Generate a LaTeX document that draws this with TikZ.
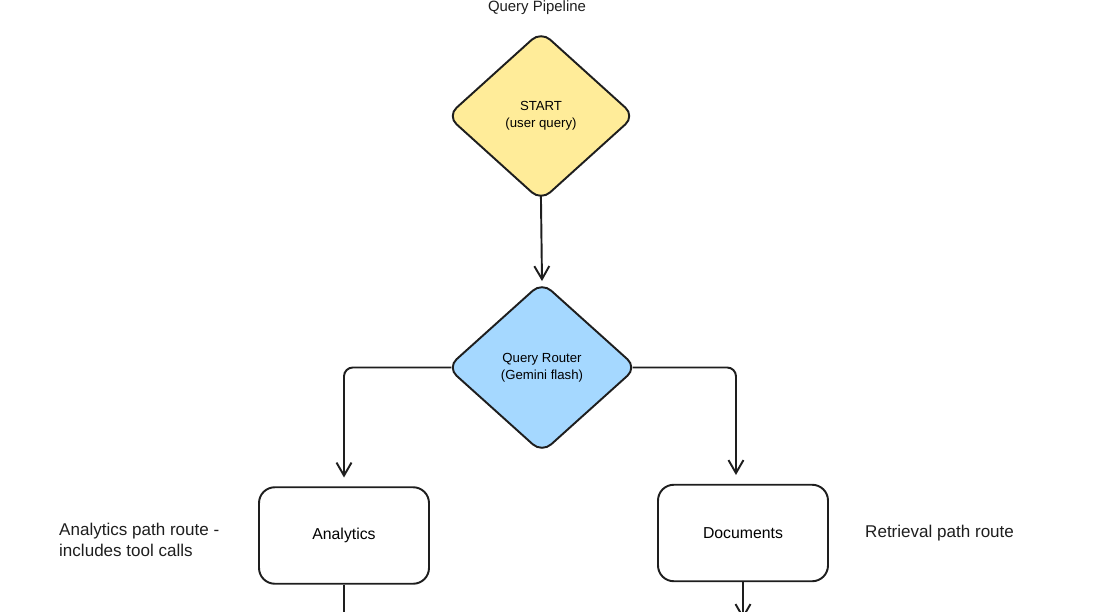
\documentclass[tikz,border=0pt]{standalone}
\usepackage{fontspec}
\setmainfont{Liberation Sans}
\usepackage{xcolor}
\usepackage{tikz}
\usetikzlibrary{positioning, arrows.meta, shapes.geometric}
\definecolor{inkdark}{RGB}{30, 30, 30}
\definecolor{startyellow}{RGB}{255, 236, 153}
\definecolor{routerblue}{RGB}{165, 216, 255}
\tikzset{
  decision/.style={diamond, draw=inkdark, fill=#1, line width=1.1pt,
                   rounded corners=7pt, align=center, inner sep=0pt,
                   font=\fontsize{7.5}{9.5}\selectfont},
  pathbox/.style={rounded corners=9pt, draw=inkdark, line width=1.1pt,
                  align=center, minimum width=3.4cm, minimum height=1.93cm,
                  font=\fontsize{9}{11}\selectfont},
  note/.style={align=left, text=inkdark, font=\fontsize{9.7}{11.5}\selectfont},
  arr/.style={-{Straight Barb[length=2.6mm, width=3mm]}, line width=1.1pt,
              draw=inkdark},
}

\begin{document}
\begin{tikzpicture}
  \clip (0,0) rectangle (21.96,-12.24);

  % ===================== decisions ==================
  \node[text=inkdark, font=\fontsize{8.5}{10}\selectfont] (title) at (10.74,-0.16)
    {Query Pipeline};
  \node[decision=startyellow, minimum width=3.76cm, minimum height=3.4cm]
    (start) at (10.82,-2.32) {START\\(user query)};
  \node[decision=routerblue, minimum width=3.8cm, minimum height=3.42cm]
    (router) at (10.84,-7.35) {Query Router\\(Gemini flash)};

  % ===================== paths ==================
  \node[pathbox] (analytics) at (6.88,-10.71) {Analytics};
  \node[pathbox] (documents) at (14.86,-10.66) {Documents};
  \node[note, anchor=west] (anNote) at (1.06,-10.80)
    {Analytics path route -\\includes tool calls};
  \node[note, anchor=west] (docNote) at (17.18,-10.66) {Retrieval path route};

  % loose ends below the frame
  \coordinate (anOut) at (6.88,-12.6);
  \coordinate (docOut) at (14.86,-12.38);

  % arrows (start a bit inside the rounded tips)
  \draw[arr, shorten <=-3.5pt] (start.south) -- (router.north);
  \draw[arr, rounded corners=5pt, shorten <=-3pt, shorten >=5pt]
    (router.west) -| (analytics.north);
  \draw[arr, rounded corners=5pt, shorten <=-3pt, shorten >=5pt]
    (router.east) -| ([xshift=-4pt]documents.north);
  \draw[arr] (analytics.south) -- (anOut);
  \draw[arr] (documents.south) -- (docOut);
\end{tikzpicture}
\end{document}
